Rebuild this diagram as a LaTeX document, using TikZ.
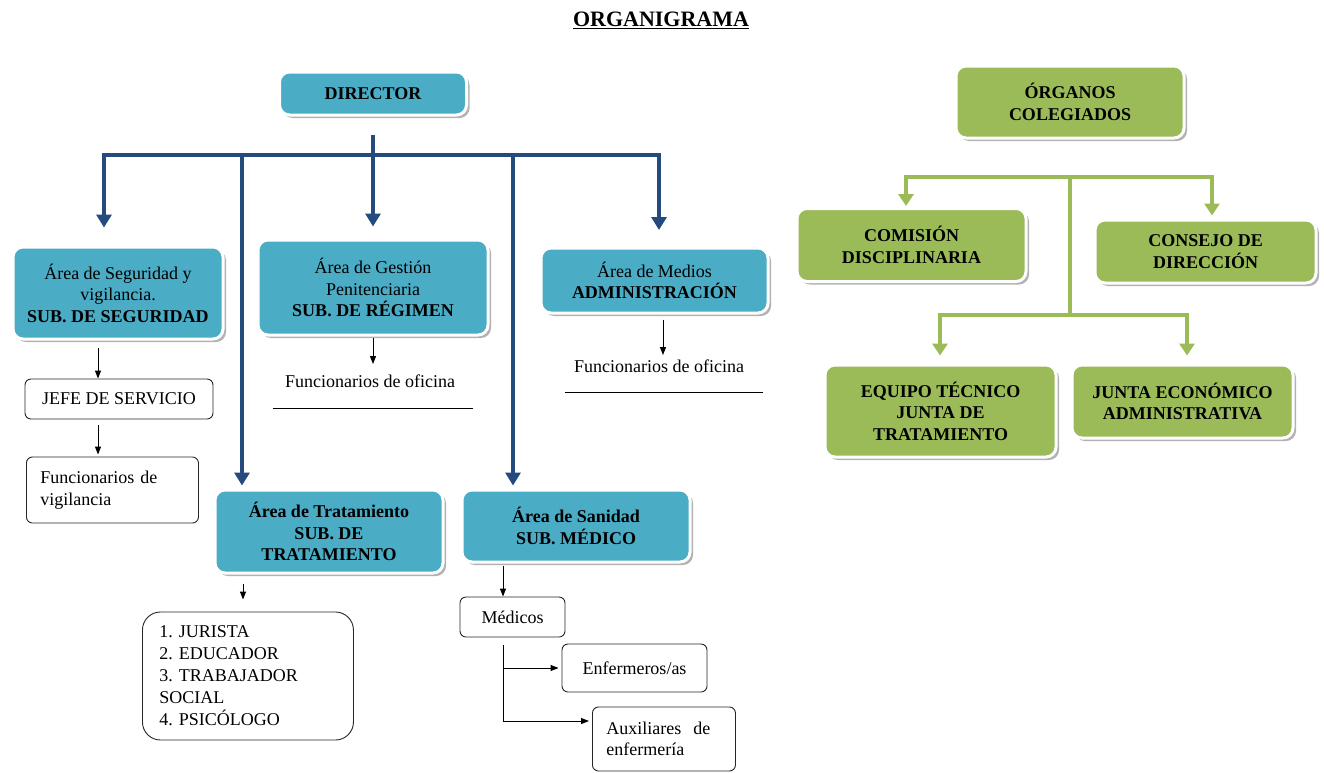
\documentclass[tikz,border=0pt]{standalone}
\usepackage{fontspec}
\setmainfont{Liberation Serif}
\usetikzlibrary{arrows.meta,shadows,calc}
\definecolor{boxblue}{HTML}{4BACC6}
\definecolor{boxgreen}{HTML}{9BBB59}
\definecolor{navy}{HTML}{244A7E}
\frenchspacing
\begin{document}
\begin{tikzpicture}[x=1pt,y=-1pt,
  every node/.style={font=\fontsize{18}{21.5}\selectfont},
  cbox/.style={rectangle, rounded corners=10pt, draw=white, line width=3pt,
    drop shadow={shadow xshift=3pt, shadow yshift=-3pt, fill=black, opacity=0.3},
    align=center, inner sep=0pt},
  bbox/.style={cbox, fill=boxblue},
  gbox/.style={cbox, fill=boxgreen, font=\fontsize{18}{21.5}\selectfont\bfseries},
  wbox/.style={rectangle, rounded corners=6pt, draw=black!85, line width=0.9pt, fill=white, inner sep=0pt},
  barrow/.style={draw=navy, line width=4pt, -{Triangle[width=15pt,length=13pt]}},
  bline/.style={draw=navy, line width=4pt},
  garrow/.style={draw=boxgreen, line width=4.5pt, -{Triangle[width=15pt,length=12pt]}},
  gline/.style={draw=boxgreen, line width=4.5pt},
  karrow/.style={draw=black, line width=1pt, -{Triangle[width=6pt,length=8pt]}},
  kline/.style={draw=black, line width=1pt},
]
\useasboundingbox (0,0) rectangle (1324,772);

% title
\node (title) at (661,20) {\fontsize{22}{26}\selectfont\bfseries\underline{ORGANIGRAMA}};

% blue boxes
\node[bbox, minimum width=187pt, minimum height=43pt] (dir) at (373,93.5) {\textbf{DIRECTOR}};
\node[bbox, minimum width=210pt, minimum height=92pt] (seg) at (118,293)
  {Área de Seguridad y\\vigilancia.\\\textbf{SUB. DE SEGURIDAD}};
\node[bbox, minimum width=230pt, minimum height=95pt] (ges) at (373,287.5)
  {Área de Gestión\\Penitenciaria\\\textbf{SUB. DE RÉGIMEN}};
\node[bbox, minimum width=227pt, minimum height=65pt] (med) at (654.5,280.5)
  {Área de Medios\\\textbf{ADMINISTRACIÓN}};
\node[bbox, minimum width=228pt, minimum height=83pt, font=\fontsize{18}{21.5}\selectfont\bfseries] (tra) at (329,531.5)
  {Área de Tratamiento\\SUB. DE\\TRATAMIENTO};
\node[bbox, minimum width=228pt, minimum height=72pt, font=\fontsize{18}{21.5}\selectfont\bfseries] (san) at (576,526)
  {Área de Sanidad\\SUB. MÉDICO};

% white boxes
\node[wbox, minimum width=188pt, minimum height=40pt] (jefe) at (119,399) {JEFE DE SERVICIO};
\node[wbox, anchor=west, text width=144pt, inner xsep=14pt, minimum height=66pt, align=left] (vig) at (26,490)
  {Funcionarios de\\vigilancia};
\node[wbox, rounded corners=18pt, anchor=west, text width=177pt, inner xsep=17pt, minimum height=128pt, align=left, font=\fontsize{18}{22}\selectfont] (list) at (142,676)
  {1. JURISTA\\2. EDUCADOR\\3. TRABAJADOR\\SOCIAL\\4. PSICÓLOGO};
\node[wbox, minimum width=105pt, minimum height=40pt] (medi) at (512.5,617) {Médicos};
\node[wbox, minimum width=145pt, minimum height=48pt] (enf) at (634.5,668) {Enfermeros/as};
\node[wbox, anchor=west, text width=115pt, inner xsep=14pt, minimum height=64pt, align=left] (aux) at (592,739)
  {Auxiliares\ \ de\\enfermería};

% plain texts
\node (fo1) at (370,381) {Funcionarios de oficina};
\node (fo2) at (659,366) {Funcionarios de oficina};
\coordinate (u1a) at (273,408); \coordinate (u1b) at (473,408);
\coordinate (u2a) at (565,392); \coordinate (u2b) at (763,392);
\draw[kline] (u1a) -- (u1b);
\draw[kline] (u2a) -- (u2b);

% green boxes
\node[gbox, minimum width=228pt, minimum height=72pt] (org) at (1070,102) {ÓRGANOS\\COLEGIADOS};
\node[gbox, minimum width=229pt, minimum height=73pt] (com) at (911.5,245) {COMISIÓN\\DISCIPLINARIA};
\node[gbox, minimum width=221pt, minimum height=63pt] (con) at (1205.5,251.5) {CONSEJO DE\\DIRECCIÓN};
\node[gbox, minimum width=231pt, minimum height=92pt] (equ) at (940.5,411) {EQUIPO TÉCNICO\\JUNTA DE\\TRATAMIENTO};
\node[gbox, minimum width=221pt, minimum height=73pt] (jun) at (1182.5,401.5) {JUNTA ECONÓMICO\\ADMINISTRATIVA};

% blue connectors
\coordinate (hub) at (373,155);
\coordinate (bL) at (104,155);
\coordinate (bR) at (659,155);
\coordinate (bT) at (242,155);
\coordinate (bS) at (513,155);
\draw[barrow, shorten >=18pt] (hub) -- (bL) -- (bL |- seg.north);
\draw[barrow, shorten >=16.5pt] (hub) -- (bR) -- (bR |- med.north);
\draw[barrow, shorten <=18pt, shorten >=12pt] (dir.south) -- (dir.south |- ges.north);
\draw[barrow, shorten >=3pt] (bT) -- (bT |- tra.north);
\draw[barrow, shorten >=3pt] (bS) -- (bS |- san.north);

% black connectors
\coordinate (k1) at (98,0);
\coordinate (k2) at (663,0);
\coordinate (k3) at (243,0);
\coordinate (k4) at (503,0);
\coordinate (k5) at (373,0);
\coordinate (kv) at (503,721);
\draw[karrow, shorten <=7pt] (k1 |- seg.south) -- (k1 |- jefe.north);
\draw[karrow, shorten <=6pt, shorten >=2pt] (k1 |- jefe.south) -- (k1 |- vig.north);
\draw[karrow, shorten <=1pt, shorten >=7pt] (k5 |- ges.south) -- (k5 |- fo1.north);
\draw[karrow, shorten <=5pt, shorten >=1pt] (k2 |- med.south) -- (k2 |- fo2.north);
\draw[karrow, shorten <=9pt, shorten >=12pt] (k3 |- tra.south) -- (k3 |- list.north);
\draw[karrow, shorten <=2pt] (k4 |- san.south) -- (k4 |- medi.north);
\draw[kline, shorten <=8pt] (k4 |- medi.south) -- (kv);
\draw[karrow, shorten >=3pt] (k4 |- enf.west) -- (enf.west);
\draw[karrow, shorten >=3pt] (kv) -- (kv -| aux.west);

% green connectors
\coordinate (gh) at (1070,177);
\coordinate (gL) at (906,177);
\coordinate (gR) at (1212,177);
\coordinate (gh2) at (1070,315);
\coordinate (gL2) at (940,315);
\coordinate (gR2) at (1187,315);
\draw[garrow, shorten >=1pt] (gh) -- (gL) -- (gL |- com.north);
\draw[garrow, shorten >=3pt] (gh) -- (gR) -- (gR |- con.north);
\draw[gline] (gh) -- (gh2);
\draw[garrow, shorten >=8pt] (gh2) -- (gL2) -- (gL2 |- equ.north);
\draw[garrow, shorten >=8pt] (gh2) -- (gR2) -- (gR2 |- jun.north);
\end{tikzpicture}
\end{document}
